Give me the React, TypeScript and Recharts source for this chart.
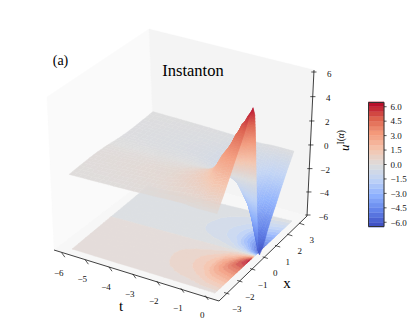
import React from "react";
import { ScatterChart, Scatter, XAxis, YAxis, ReferenceArea } from "recharts";

// ---- data ----
const tTicks = [-6, -5, -4, -3, -2, -1, 0];
const xTicks = [-3, -2, -1, 0, 1, 2, 3];
const zTicks = [-6, -4, -2, 0, 2, 4, 6];
const cbarTicks = [-6, -4.5, -3, -1.5, 0, 1.5, 3, 4.5, 6];
const tGrid = [-6, -5, -4, -3, -2.6, -2, -1.6, -1.3, -1, -0.8, -0.6, -0.4, -0.25, -0.12, -0.05, -0.02, 0];
const xHalf = [-3, -2.5, -2, -1.6, -1.3, -1, -0.8, -0.6, -0.4, -0.25, -0.1, 0];
const uT60 = [0.05, 0.08, 0.1, 0.12, 0.12, 0.12, 0.1, 0.09, 0.06, 0.04, 0.02, 0];
const uT50 = [0.06, 0.1, 0.14, 0.16, 0.17, 0.16, 0.14, 0.12, 0.08, 0.05, 0.02, 0];
const uT40 = [0.08, 0.14, 0.2, 0.24, 0.25, 0.23, 0.2, 0.16, 0.11, 0.07, 0.03, 0];
const uT30 = [0.12, 0.2, 0.29, 0.33, 0.34, 0.32, 0.27, 0.21, 0.14, 0.09, 0.04, 0];
const uT26 = [0.14, 0.25, 0.38, 0.44, 0.46, 0.43, 0.37, 0.29, 0.2, 0.13, 0.05, 0];
const uT20 = [0.18, 0.4, 0.62, 0.72, 0.74, 0.7, 0.62, 0.5, 0.35, 0.22, 0.09, 0];
const uT16 = [0.2, 0.5, 0.82, 0.98, 1.02, 0.97, 0.85, 0.68, 0.47, 0.3, 0.12, 0];
const uT13 = [0.18, 0.55, 1.0, 1.25, 1.35, 1.28, 1.13, 0.9, 0.62, 0.4, 0.16, 0];
const uT10 = [0.12, 0.65, 1.3, 1.75, 1.92, 1.86, 1.65, 1.35, 0.95, 0.62, 0.26, 0];
const uT08 = [0.1, 0.8, 1.7, 2.4, 2.8, 2.8, 2.55, 2.1, 1.5, 1.0, 0.42, 0];
const uT06 = [0.1, 1.0, 2.05, 2.9, 3.4, 3.5, 3.3, 2.75, 2.0, 1.35, 0.58, 0];
const uT04 = [0.1, 1.1, 2.2, 3.15, 3.85, 4.45, 4.45, 4.0, 3.0, 2.1, 0.9, 0];
const uT025 = [0.1, 1.15, 2.3, 3.3, 4.0, 4.8, 5.2, 5.15, 4.3, 3.1, 1.35, 0];
const uT012 = [0.1, 1.2, 2.4, 3.4, 4.1, 4.9, 5.35, 5.7, 5.45, 4.2, 1.9, 0];
const uT005 = [0.1, 1.2, 2.4, 3.4, 4.1, 4.9, 5.4, 5.9, 5.95, 4.9, 2.25, 0];
const uT002 = [0.1, 1.2, 2.4, 3.4, 4.1, 4.85, 5.45, 5.95, 6.15, 5.3, 2.45, 0];
const uT00 = [0.1, 1.2, 2.4, 3.4, 4.1, 4.85, 5.5, 6.0, 6.3, 5.6, 2.6, 0];
const halfRows = [uT60, uT50, uT40, uT30, uT26, uT20, uT16, uT13, uT10, uT08, uT06, uT04, uT025, uT012, uT005, uT002, uT00];

// ---- odd continuation to x > 0 ----
const xGrid = [...xHalf, ...xHalf.slice(0, -1).reverse().map((v) => -v)];
const uRows = halfRows.map((r) => [...r, ...r.slice(0, -1).reverse().map((v) => -v)]);

// ---- look of the picture ----
const W = 415;
const H = 330;
const SERIF = "'Liberation Serif', 'Times New Roman', serif";
const V_MAX = 6.44;
const STOPS = [
  [59, 76, 192], [98, 130, 234], [141, 176, 254], [191, 211, 246], [221, 220, 220],
  [245, 196, 172], [244, 154, 123], [221, 96, 76], [180, 4, 38],
];
const color = (v: number) => {
  const s = Math.max(0, Math.min(1, (v + V_MAX) / (2 * V_MAX))) * 8;
  const i = Math.min(7, Math.floor(s));
  const f = s - i;
  const c = STOPS[i].map((a, k) => Math.round(a + (STOPS[i + 1][k] - a) * f));
  return `rgb(${c[0]},${c[1]},${c[2]})`;
};

type Pt = [number, number];
const homography = (p0: Pt, p1: Pt, p2: Pt, p3: Pt) => {
  const dx1 = p1[0] - p2[0], dx2 = p3[0] - p2[0], dy1 = p1[1] - p2[1], dy2 = p3[1] - p2[1];
  const sx = p0[0] - p1[0] + p2[0] - p3[0], sy = p0[1] - p1[1] + p2[1] - p3[1];
  const det = dx1 * dy2 - dx2 * dy1;
  const g = (sx * dy2 - dx2 * sy) / det, h = (dx1 * sy - sx * dy1) / det;
  const a = p1[0] - p0[0] + g * p1[0], b = p3[0] - p0[0] + h * p3[0];
  const d = p1[1] - p0[1] + g * p1[1], e = p3[1] - p0[1] + h * p3[1];
  return (u: number, v: number): Pt => {
    const q = g * u + h * v + 1;
    return [(a * u + b * v + p0[0]) / q, (d * u + e * v + p0[1]) / q];
  };
};
const floorH = homography([72, 249], [215, 293], [292, 221], [148, 186]);
const planeH = homography([69, 175], [217, 215], [294, 150], [153, 111]);
const project = (t: number, x: number, z: number): Pt => {
  const u = (t + 6) / 6, v = (x + 3) / 6, w = (z + 6) / 6;
  const a = floorH(u, v), b = planeH(u, v);
  return [a[0] + (b[0] - a[0]) * w, a[1] + (b[1] - a[1]) * w];
};

type Mark = { px: number; py: number; d: string; fill: string; stroke?: string };
const toPath = (pts: Pt[], o: Pt) =>
  "M" + pts.map((p) => `${(p[0] - o[0]).toFixed(2)} ${(p[1] - o[1]).toFixed(2)}`).join("L") + "Z";

// panes of the 3-D box
const paneL: Pt = [54, 250], paneF: Pt = [219, 301], paneR: Pt = [307, 216], paneB: Pt = [155, 173];
const paneLT: Pt = [47, 97], paneBT: Pt = [149, 29], paneRT: Pt = [314, 70];
const poly = (pts: Pt[], fill: string): Mark => ({ px: pts[0][0], py: pts[0][1], d: toPath(pts, pts[0]), fill });
const panes: Mark[] = [
  poly([paneL, paneLT, paneBT, paneB], "#fafafa"),
  poly([paneB, paneBT, paneRT, paneR], "#f4f4f4"),
  poly([paneL, paneF, paneR, paneB], "#f7f7f7"),
];

// filled contours on the floor
const bandEdges: number[] = [];
for (let k = 0; k <= 26; k++) bandEdges.push(-6.5 + k * 0.5);
type V3 = { t: number; x: number; z: number };
const clip = (poly3: V3[], level: number, keepAbove: boolean) => {
  const out: V3[] = [];
  for (let i = 0; i < poly3.length; i++) {
    const a = poly3[i], b = poly3[(i + 1) % poly3.length];
    const ia = keepAbove ? a.z >= level : a.z <= level;
    const ib = keepAbove ? b.z >= level : b.z <= level;
    if (ia) out.push(a);
    if (ia !== ib) {
      const f = (level - a.z) / (b.z - a.z);
      out.push({ t: a.t + (b.t - a.t) * f, x: a.x + (b.x - a.x) * f, z: level });
    }
  }
  return out;
};
const floorAnchor = project(-6, -3, -6);
const floorBands: Mark[] = bandEdges.slice(0, -1).map((lo, b) => {
  const hi = bandEdges[b + 1];
  let d = "";
  for (let i = 0; i < tGrid.length - 1; i++) {
    for (let j = 0; j < xGrid.length - 1; j++) {
      const c00 = { t: tGrid[i], x: xGrid[j], z: uRows[i][j] };
      const c10 = { t: tGrid[i + 1], x: xGrid[j], z: uRows[i + 1][j] };
      const c11 = { t: tGrid[i + 1], x: xGrid[j + 1], z: uRows[i + 1][j + 1] };
      const c01 = { t: tGrid[i], x: xGrid[j + 1], z: uRows[i][j + 1] };
      for (const tri of [[c00, c10, c11], [c00, c11, c01]]) {
        const res = clip(clip(tri, lo, true), hi, false);
        if (res.length >= 3) d += toPath(res.map((v) => project(v.t, v.x, -6)), floorAnchor);
      }
    }
  }
  return { px: floorAnchor[0], py: floorAnchor[1], d, fill: color((lo + hi) / 2) };
}).filter((m) => m.d.length > 0);

// surface facets, far to near
const facets: Mark[] = [];
for (let i = 0; i < tGrid.length - 1; i++) {
  for (let j = xGrid.length - 2; j >= 0; j--) {
    const z00 = uRows[i][j], z10 = uRows[i + 1][j], z11 = uRows[i + 1][j + 1], z01 = uRows[i][j + 1];
    const at = (s: number, r: number) => {
      const t = tGrid[i] + (tGrid[i + 1] - tGrid[i]) * s;
      const x = xGrid[j] + (xGrid[j + 1] - xGrid[j]) * r;
      const z = (z00 * (1 - s) + z10 * s) * (1 - r) + (z01 * (1 - s) + z11 * s) * r;
      return { p: project(t, x, z), z };
    };
    const dtPx = (tGrid[i + 1] - tGrid[i]) * 24;
    const dxPx = (xGrid[j + 1] - xGrid[j]) * 16;
    const ns = Math.max(Math.ceil(dtPx / 5), Math.min(12, Math.ceil(Math.max(Math.abs(z10 - z00), Math.abs(z11 - z01)) * 6)));
    const nr = Math.max(Math.ceil(dxPx / 5), Math.min(12, Math.ceil(Math.max(Math.abs(z01 - z00), Math.abs(z11 - z10)) * 6)));
    for (let a = 0; a < ns; a++) {
      for (let b = nr - 1; b >= 0; b--) {
        const q = [at(a / ns, b / nr), at((a + 1) / ns, b / nr), at((a + 1) / ns, (b + 1) / nr), at(a / ns, (b + 1) / nr)];
        const pts = q.map((v) => v.p);
        const mean = (q[0].z + q[1].z + q[2].z + q[3].z) / 4;
        facets.push({ px: pts[0][0], py: pts[0][1], d: toPath(pts, pts[0]), fill: color(mean) });
      }
    }
  }
}

// axes
const tAxisLine = [{ px: 54, py: 250 }, { px: 219, py: 301 }];
const xAxisLine = [{ px: 219, py: 301 }, { px: 307, py: 216 }];
const zAxisLine = [{ px: 307, py: 216 }, { px: 314, py: 70 }];
const ease = (s: number, a: number) => (s * a) / (1 + (a - 1) * s);
const along = (a: Pt, b: Pt, s: number): Pt => [a[0] + (b[0] - a[0]) * s, a[1] + (b[1] - a[1]) * s];
const minus = (v: number, digits = 0) => (v < 0 ? "\u2212" : "") + Math.abs(v).toFixed(digits);

type Tick = { px: number; py: number; d: string; fill: string };
type Lab = { px: number; py: number; label: string };
const tPos = tTicks.map((v) => along([63.3, 255], [206.7, 297.7], ease((v + 6) / 6, 0.98)));
const xPos = xTicks.map((v) => along([226.7, 293.3], [301.7, 224], ease((v + 3) / 6, 1.058)));
const zPos = zTicks.map((v) => along([307.7, 215], [313.7, 72], ease((v + 6) / 12, 0.96)));
const tickMarks: Tick[] = [
  ...tPos.map((p) => ({ px: p[0], py: p[1], d: "M-1.6 -2.2L1.6 2.2", fill: "none" })),
  ...xPos.map((p) => ({ px: p[0], py: p[1], d: "M-2.6 -0.8L2.6 0.8", fill: "none" })),
  ...zPos.map((p) => ({ px: p[0], py: p[1], d: "M-2.4 0L2.8 0", fill: "none" })),
];
const tickLabels: Lab[] = [
  ...tTicks.map((v, i) => ({ px: tPos[i][0] - 4.5, py: tPos[i][1] + 17.5, label: minus(v) })),
  ...xTicks.map((v, i) => ({ px: xPos[i][0] + 10, py: xPos[i][1] + 15.5, label: minus(v) })),
  ...zTicks.map((v, i) => ({ px: zPos[i][0] + 15.5, py: zPos[i][1] + 1.5, label: minus(v) })),
];
const titles = [
  { px: 193, py: 70.5, label: "Instanton", size: 16.5 },
  { px: 60.5, py: 60, label: "(a)", size: 14 },
  { px: 121, py: 306, label: "t", size: 15 },
  { px: 287, py: 283, label: "x", size: 15 },
];

// colour bar
const CB_LEFT = 368.5, CB_RIGHT = 384, CB_MID = 164.5, CB_PER_UNIT = 9.63;
const cbY = (v: number) => CB_MID - v * CB_PER_UNIT;
const cbBands = bandEdges.slice(0, -1).map((lo, i) => ({ lo, hi: bandEdges[i + 1] }));
const cbTickData = cbarTicks.map((v) => ({ px: CB_RIGHT, py: cbY(v), d: "M0 0L2.6 0", fill: "none" }));
const cbLabels = cbarTicks.map((v) => ({ px: 390.5, py: cbY(v) + 0.3, label: minus(v, 1) }));

const PathShape = (p: any) => (
  <path
    transform={`translate(${p.cx},${p.cy})`}
    d={p.payload.d}
    fill={p.payload.fill}
    stroke={p.payload.fill}
    strokeWidth={0.35}
  />
);
const TickShape = (p: any) => (
  <path transform={`translate(${p.cx},${p.cy})`} d={p.payload.d} fill="none" stroke="#111" strokeWidth={0.7} />
);
const TickText = (p: any) => (
  <text x={p.cx} y={p.cy} textAnchor="middle" dominantBaseline="central" fontFamily={SERIF} fontSize={9} fill="#111">
    {p.payload.label}
  </text>
);
const CbText = (p: any) => (
  <text x={p.cx} y={p.cy} textAnchor="start" dominantBaseline="central" fontFamily={SERIF} fontSize={9} fill="#111">
    {p.payload.label}
  </text>
);
const TitleText = (p: any) => (
  <text x={p.cx} y={p.cy} textAnchor="middle" dominantBaseline="central" fontFamily={SERIF} fontSize={p.payload.size} fill="#000">
    {p.payload.label}
  </text>
);
const ZLabel = (p: any) => (
  <text transform={`translate(${p.cx},${p.cy}) rotate(-90)`} textAnchor="middle" fontFamily={SERIF} fontSize={13} fill="#000">
    <tspan fontStyle="italic">u</tspan>
    <tspan fontSize={9.5} dy={-4.5}>I(</tspan>
    <tspan fontSize={9.5} fontStyle="italic">{"\u03B1"}</tspan>
    <tspan fontSize={9.5}>)</tspan>
  </text>
);
const none = () => <g />;
const line = { stroke: "#111", strokeWidth: 0.8 };

export default function App() {
  return (
    <div style={{ position: "absolute", left: 0, top: 0, width: W, height: H, background: "#fff" }}>
      <style>{`.surface3d{opacity:.95}.floor3d{opacity:.85}`}</style>
      <ScatterChart width={W} height={H} margin={{ top: 0, right: 0, bottom: 0, left: 0 }}>
        <XAxis type="number" dataKey="px" domain={[0, W]} hide />
        <YAxis type="number" dataKey="py" domain={[0, H]} reversed hide />
        <Scatter data={panes} shape={PathShape} isAnimationActive={false} />
        <Scatter className="floor3d" data={floorBands} shape={PathShape} isAnimationActive={false} />
        <Scatter className="surface3d" data={facets} shape={PathShape} isAnimationActive={false} />
        <Scatter data={tAxisLine} line={line} shape={none} isAnimationActive={false} />
        <Scatter data={xAxisLine} line={line} shape={none} isAnimationActive={false} />
        <Scatter data={zAxisLine} line={line} shape={none} isAnimationActive={false} />
        <Scatter data={tickMarks} shape={TickShape} isAnimationActive={false} />
        <Scatter data={tickLabels} shape={TickText} isAnimationActive={false} />
        <Scatter data={titles} shape={TitleText} isAnimationActive={false} />
        <Scatter data={[{ px: 348.5, py: 140.5 }]} shape={ZLabel} isAnimationActive={false} />
        {cbBands.map((b) => (
          <ReferenceArea
            key={b.lo}
            x1={CB_LEFT}
            x2={CB_RIGHT}
            y1={cbY(b.lo)}
            y2={cbY(b.hi)}
            fill={color((b.lo + b.hi) / 2)}
            fillOpacity={1}
            stroke={color((b.lo + b.hi) / 2)}
            strokeWidth={0.4}
          />
        ))}
        <ReferenceArea
          x1={CB_LEFT}
          x2={CB_RIGHT}
          y1={cbY(-6.44)}
          y2={cbY(6.44)}
          fill="none"
          stroke="#333"
          strokeWidth={1}
        />
        <Scatter data={cbTickData} shape={TickShape} isAnimationActive={false} />
        <Scatter data={cbLabels} shape={CbText} isAnimationActive={false} />
      </ScatterChart>
    </div>
  );
}
